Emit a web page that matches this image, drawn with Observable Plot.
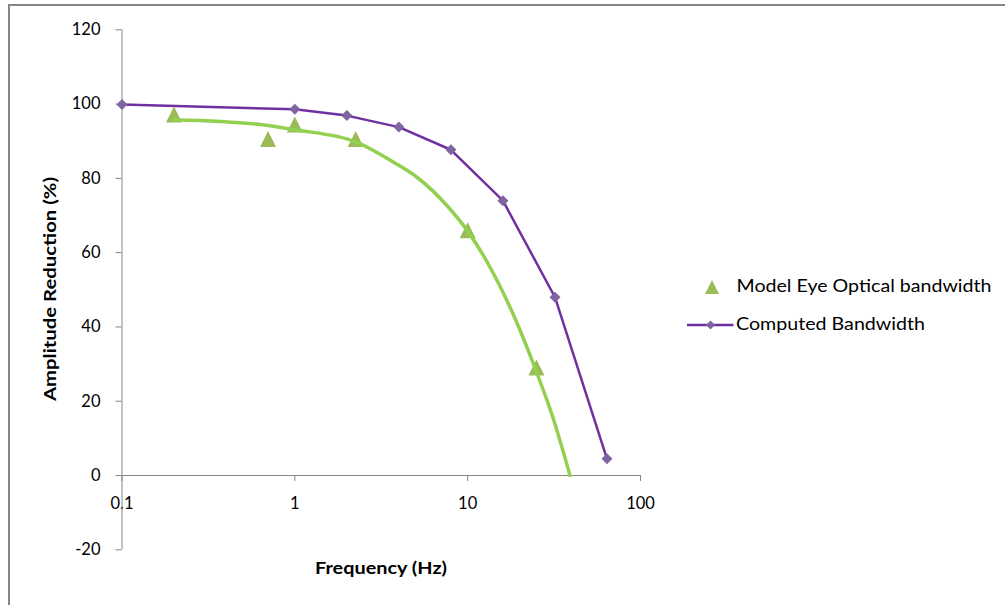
<!DOCTYPE html>
<html>
<head>
<meta charset="utf-8">
<script src="https://cdn.jsdelivr.net/npm/d3@7"></script>
<script src="https://cdn.jsdelivr.net/npm/@observablehq/plot@0.6"></script>
<style>
  html, body { margin: 0; padding: 0; background: #fff; }
  #wrap { position: relative; width: 1005px; height: 605px; overflow: hidden; font-family: Lato, "Open Sans", sans-serif; }
  #frame { position: absolute; left: 8px; top: 4px; width: 1100px; height: 700px; border-left: 2px solid #868686; border-top: 2px solid #868686; pointer-events: none; z-index: 2; }
  #chart { position: absolute; left: 0; top: 0; }
  #chart svg text { font-size: 16.5px !important; font-family: Lato, "Open Sans", sans-serif !important; }
  #overlay { position: absolute; left: 0; top: 0; pointer-events: none; }
</style>
</head>
<body>
<div id="wrap">
  <div id="chart"></div>
  <svg id="overlay" width="1005" height="605"></svg>
  <div id="frame"></div>
</div>
<script>
// ---- Data ----
const computedFreq = [0.1, 1, 2, 4, 8, 16, 32, 64];
const computedAmp  = [99.9, 98.6, 96.9, 93.8, 87.7, 74.0, 48.0, 4.5];

const modelFreq = [0.2, 0.7, 1, 2.25, 10, 25];
const modelAmp  = [97.2, 90.6, 94.5, 90.6, 66.0, 29.1];

// fitted (trend) curve through the model eye points
const fitFreq = [0.2, 0.63, 1, 2.29, 3.71, 5.09, 7.58, 9.93, 13.1, 18.1, 25.1, 31.3, 39.1];
const fitAmp  = [95.8, 94.5, 93.1, 89.7, 84.4, 80.3, 72.7, 66.0, 57.1, 44.0, 27.7, 15.3, 0];

const xTicks = [0.1, 1, 10, 100];
const xTickLabels = ["0.1", "1", "10", "100"];
const yTicks = [-20, 0, 20, 40, 60, 80, 100, 120];

const xTitle = "Frequency (Hz)";
const yTitle = "Amplitude Reduction (%)";
const seriesNames = ["Model Eye Optical bandwidth", "Computed Bandwidth"];

// ---- Build tables ----
const computed = computedFreq.map((f, i) => ({f, a: computedAmp[i]}));
const model = modelFreq.map((f, i) => ({f, a: modelAmp[i]}));
const fit = fitFreq.map((f, i) => ({f, a: fitAmp[i]}));

const diamond = {draw(ctx, size) { const s = Math.sqrt(size / Math.PI); ctx.moveTo(0, -s); ctx.lineTo(s, 0); ctx.lineTo(0, s); ctx.lineTo(-s, 0); ctx.closePath(); }};
const triangle = {draw(ctx, size) { const s = Math.sqrt(size / Math.PI); ctx.moveTo(0, -s); ctx.lineTo(s, s); ctx.lineTo(-s, s); ctx.closePath(); }};

const W = 1005, H = 605;
const mL = 121.5, mR = 365, mT = 29.3, mB = 55.7;
const yDomain = [-20, 120];
const axisShift = -((0 - yDomain[0]) / (yDomain[1] - yDomain[0])) * (H - mT - mB);

const axisGray = "#868686";
const font = "Lato, 'Open Sans', sans-serif";

const plot = Plot.plot({
  width: W, height: H,
  marginLeft: mL, marginRight: mR, marginTop: mT, marginBottom: mB,
  x: {type: "log", domain: [0.1, 100]},
  y: {domain: yDomain},
  style: {fontFamily: font, fontSize: "16.5px", background: "transparent", color: "#000", overflow: "visible"},
  marks: [
    Plot.axisY({ticks: yTicks, tickFormat: d => String(d), tickSize: 6, tickPadding: 15.5, stroke: axisGray, fill: "#000", fontSize: 16.5, label: null}),
    Plot.axisX({ticks: xTicks, tickFormat: d => xTickLabels[xTicks.indexOf(d)], tickSize: 6, tickPadding: 16, dy: axisShift, stroke: axisGray, fill: "#000", fontSize: 16.5, label: null}),
    Plot.ruleX([0.1], {y1: yDomain[0], y2: yDomain[1], stroke: axisGray, strokeWidth: 1}),
    Plot.ruleY([0], {x1: 0.1, x2: 100, stroke: axisGray, strokeWidth: 1}),
    Plot.dot(model, {x: "f", y: "a", symbol: triangle, r: 8, fill: "#9BBB59", stroke: "none"}),
    Plot.line(fit, {x: "f", y: "a", curve: "monotone-x", stroke: "#92D050", strokeWidth: 3.5}),
    Plot.line(computed, {x: "f", y: "a", stroke: "#7030A0", strokeWidth: 2.5}),
    Plot.dot(computed, {x: "f", y: "a", symbol: diamond, r: 5.5, fill: "#8064A2", stroke: "none"})
  ]
});
document.getElementById("chart").appendChild(plot);

// ---- Axis titles and legend (overlay) ----
const ov = d3.select("#overlay");
ov.append("text")
  .attr("transform", "translate(56,289) rotate(-90)")
  .attr("text-anchor", "middle")
  .attr("font-family", font).attr("font-weight", "bold").attr("font-size", 17.5).attr("fill", "#000")
  .attr("textLength", 224).attr("lengthAdjust", "spacingAndGlyphs")
  .text(yTitle);
ov.append("text")
  .attr("x", 381).attr("y", 573.5)
  .attr("text-anchor", "middle")
  .attr("font-family", font).attr("font-weight", "bold").attr("font-size", 17.5).attr("fill", "#000")
  .attr("textLength", 132).attr("lengthAdjust", "spacingAndGlyphs")
  .text(xTitle);

// legend item 1: triangle marker
ov.append("g").attr("transform", "translate(712,287)")
  .append("path").attr("d", d3.symbol(triangle, Math.PI * 7 * 7)()).attr("fill", "#9BBB59");
ov.append("text").attr("x", 736.5).attr("y", 292.3)
  .attr("font-family", font).attr("font-size", 18).attr("fill", "#000")
  .attr("textLength", 255).attr("lengthAdjust", "spacingAndGlyphs")
  .text(seriesNames[0]);
// legend item 2: line with diamond
ov.append("line").attr("x1", 687).attr("x2", 733.5).attr("y1", 325).attr("y2", 325)
  .attr("stroke", "#7030A0").attr("stroke-width", 2.5);
ov.append("g").attr("transform", "translate(710.5,325)")
  .append("path").attr("d", d3.symbol(diamond, Math.PI * 4.5 * 4.5)()).attr("fill", "#8064A2");
ov.append("text").attr("x", 736).attr("y", 330)
  .attr("font-family", font).attr("font-size", 18).attr("fill", "#000")
  .attr("textLength", 189).attr("lengthAdjust", "spacingAndGlyphs")
  .text(seriesNames[1]);
</script>
</body>
</html>
